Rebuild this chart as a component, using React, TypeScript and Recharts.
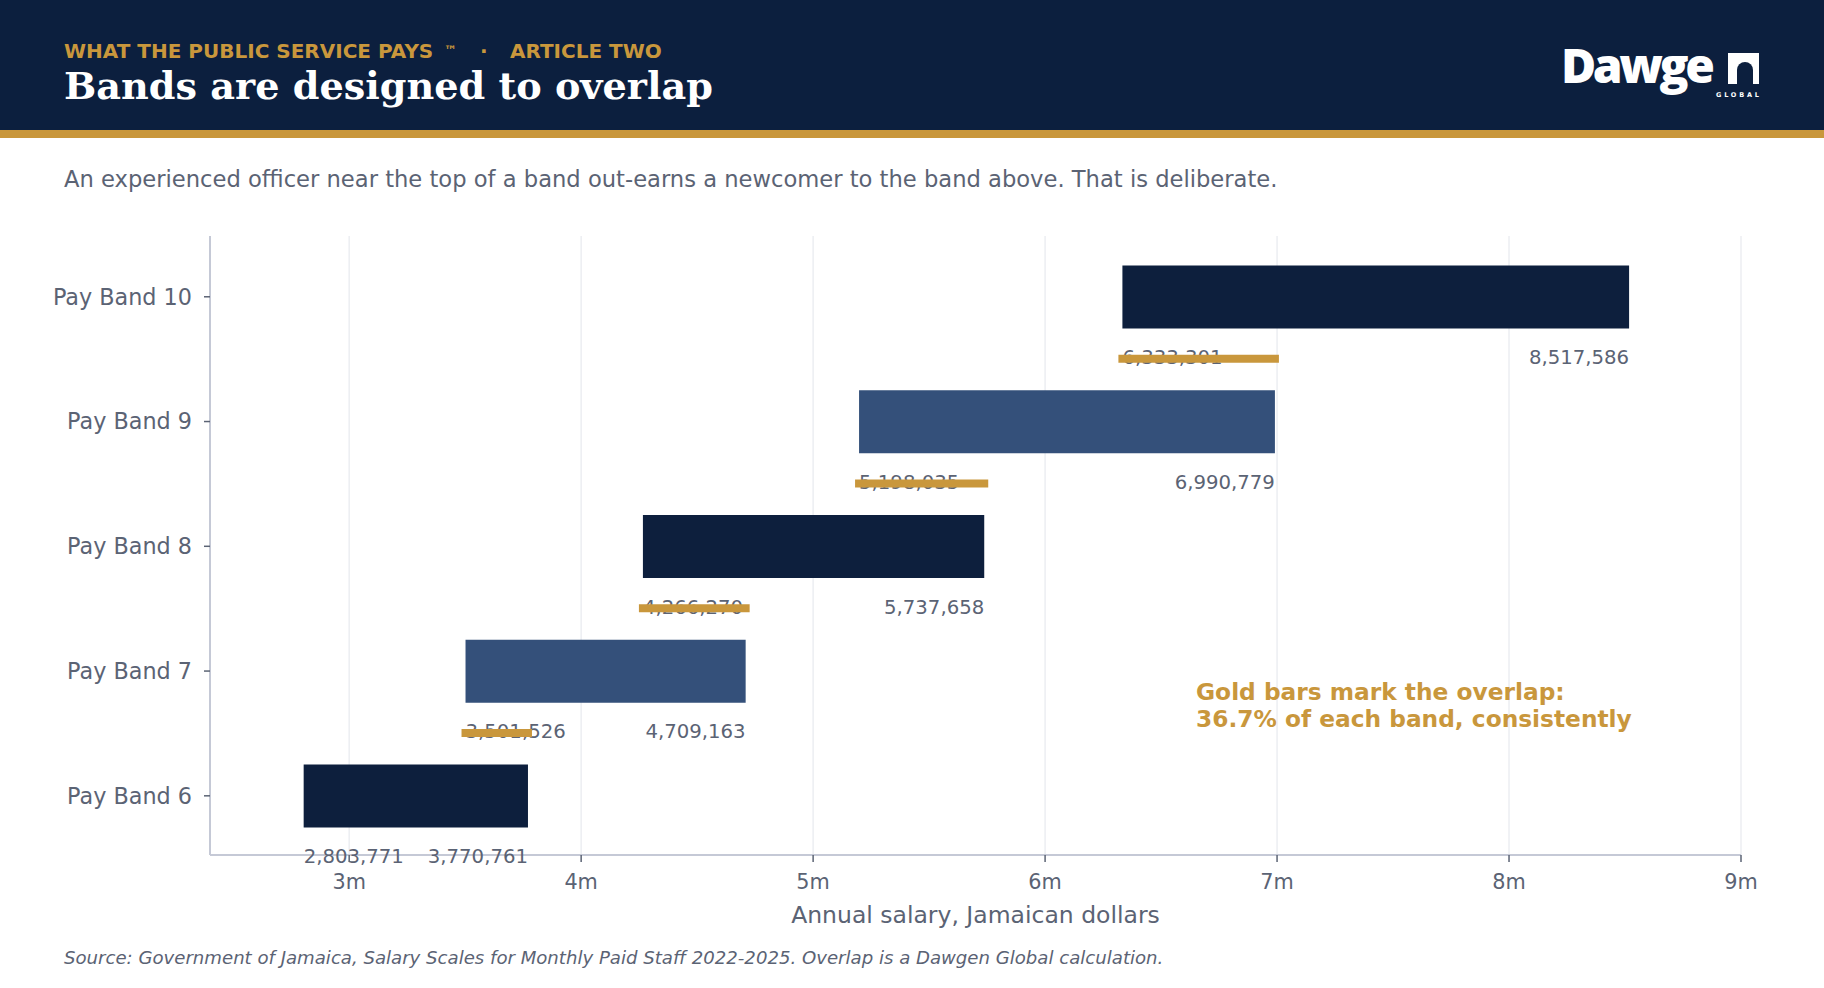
import React from 'react';
import { BarChart, Bar, XAxis, YAxis, CartesianGrid, Cell, LabelList, Label } from 'recharts';

// ---- data ----
const bands = ['Pay Band 10', 'Pay Band 9', 'Pay Band 8', 'Pay Band 7', 'Pay Band 6'];
const bandMin = [6333301, 5198035, 4266270, 3501526, 2803771];
const bandMax = [8517586, 6990779, 5737658, 4709163, 3770761];
// top of the overlap = maximum of the band below (none for the lowest band)
const overlapTop: (number | null)[] = [6990779, 5737658, 4709163, 3770761, null];
const xTicks = [3000000, 4000000, 5000000, 6000000, 7000000, 8000000, 9000000];

const NAVY = '#0d1f3d';
const MID = '#34507a';
const GOLD = '#c9973c';
const GRAY = '#5b6374';
const AXIS = '#c5c9d6';
const GRID = '#eceef2';
const FONT = '"DejaVu Sans", sans-serif';

const bandColors = [NAVY, MID, NAVY, MID, NAVY];

const data = bands.map((band, i) => ({
  band,
  min: bandMin[i],
  max: bandMax[i],
  range: [bandMin[i], bandMax[i]],
  overlap: overlapTop[i] == null ? null : [bandMin[i], overlapTop[i]],
}));

const fmt = (v: any) => Number(v).toLocaleString('en-US');

const GoldLine = (props: any) => {
  const { x, y, width, height, payload } = props;
  if (!payload || payload.overlap == null || !isFinite(x) || !isFinite(width) || !width) return null;
  const cy = y + height / 2;
  return (
    <line
      x1={x}
      x2={x + width}
      y1={cy}
      y2={cy}
      stroke={GOLD}
      strokeWidth={height}
      strokeLinecap="square"
    />
  );
};

export default function App() {
  return (
    <div
      style={{
        position: 'absolute',
        left: 0,
        top: 0,
        width: 1824,
        height: 988,
        background: '#ffffff',
        overflow: 'hidden',
      }}
    >
      <div style={{ position: 'absolute', left: 0, top: 0 }}>
        <BarChart
          width={1824}
          height={988}
          data={data}
          layout="vertical"
          margin={{ top: 236, right: 83, bottom: 73, left: 0 }}
        >
          <CartesianGrid horizontal={false} stroke={GRID} strokeWidth={1.5} />
          <XAxis
            type="number"
            domain={[2400000, 9000000]}
            ticks={xTicks}
            allowDataOverflow
            height={60}
            tickFormatter={(v: number) => `${v / 1000000}m`}
            tick={{ fill: GRAY, fontSize: 20.8, fontFamily: FONT }}
            tickLine={{ stroke: GRAY, strokeWidth: 1.5 }}
            tickSize={7}
            tickMargin={12}
            axisLine={{ stroke: AXIS, strokeWidth: 2 }}
          >
            <Label
              value="Annual salary, Jamaican dollars"
              position="bottom"
              offset={-9}
              fill={GRAY}
              fontSize={23.5}
              fontFamily={FONT}
            />
          </XAxis>
          <YAxis
            type="category"
            dataKey="band"
            width={210}
            padding={{ top: -1.6, bottom: -3.2 }}
            tick={{ fill: GRAY, fontSize: 22.3, fontFamily: FONT }}
            tickLine={{ stroke: GRAY, strokeWidth: 1.5 }}
            tickSize={6}
            tickMargin={12}
            axisLine={{ stroke: AXIS, strokeWidth: 2 }}
          />
          <YAxis
            yAxisId="lab"
            type="category"
            dataKey="band"
            hide
            padding={{ top: 59, bottom: -63.8 }}
          />
          <YAxis
            yAxisId="gold"
            type="category"
            dataKey="band"
            hide
            padding={{ top: 60.7, bottom: -65.5 }}
          />
          <Bar dataKey="range" barSize={63} isAnimationActive={false}>
            {data.map((d, i) => (
              <Cell key={d.band} fill={bandColors[i]} />
            ))}
          </Bar>
          <Bar yAxisId="lab" dataKey="range" barSize={8} fill="transparent" isAnimationActive={false}>
            <LabelList
              dataKey="min"
              position="insideLeft"
              offset={0}
              formatter={fmt}
              fill={GRAY}
              fontSize={19.7}
              fontFamily={FONT}
            />
            <LabelList
              dataKey="max"
              position="insideRight"
              offset={0}
              formatter={fmt}
              fill={GRAY}
              fontSize={19.7}
              fontFamily={FONT}
            />
          </Bar>
          <Bar
            yAxisId="gold"
            dataKey="overlap"
            barSize={8}
            fill={GOLD}
            shape={GoldLine}
            isAnimationActive={false}
            zIndex={2100}
          />
        </BarChart>
      </div>

      <svg
        width={1824}
        height={988}
        style={{ position: 'absolute', left: 0, top: 0, pointerEvents: 'none' }}
      >
        <rect x={0} y={0} width={1824} height={130} fill="#0c1f3e" />
        <rect x={0} y={130} width={1824} height={8} fill={GOLD} />
        <text x={64} y={58} fill={GOLD} fontSize={20} fontWeight="bold" fontFamily={FONT}>
          WHAT THE PUBLIC SERVICE PAYS
          <tspan x={444} dy={-3} fontSize={13}>™</tspan>
          <tspan x={480} dy={3}>·</tspan>
          <tspan x={510}>ARTICLE TWO</tspan>
        </text>
        <text
          x={64}
          y={99}
          fill="#ffffff"
          fontSize={38.2}
          fontWeight="bold"
          fontFamily='"DejaVu Serif", serif'
        >
          Bands are designed to overlap
        </text>
        {/* logo */}
        <text
          x={1561}
          y={83}
          fill="#ffffff"
          fontSize={48}
          fontWeight={800}
          letterSpacing={-3.4}
          fontFamily='"Open Sans", sans-serif'
        >
          Dawge
        </text>
        <rect x={1728} y={53} width={31} height={31} fill="#ffffff" />
        <path d="M1737,84 V70 A8,8 0 0 1 1753,70 V84 Z" fill="#0c1f3e" />
        <text
          x={1716}
          y={97}
          fill="#ffffff"
          fontSize={6.5}
          fontWeight="bold"
          letterSpacing={2.8}
          fontFamily={FONT}
        >
          GLOBAL
        </text>

        <text x={64} y={187} fill={GRAY} fontSize={22.63} fontFamily={FONT}>
          An experienced officer near the top of a band out-earns a newcomer to the band above. That is deliberate.
        </text>

        <text x={1196} y={700} fill={GOLD} fontSize={23.3} fontWeight="bold" fontFamily={FONT}>
          Gold bars mark the overlap:
        </text>
        <text x={1196} y={727} fill={GOLD} fontSize={23.3} fontWeight="bold" fontFamily={FONT}>
          36.7% of each band, consistently
        </text>

        <text x={64} y={964} fill={GRAY} fontSize={18.13} fontStyle="italic" fontFamily={FONT}>
          Source: Government of Jamaica, Salary Scales for Monthly Paid Staff 2022-2025. Overlap is a Dawgen Global calculation.
        </text>
      </svg>
    </div>
  );
}
